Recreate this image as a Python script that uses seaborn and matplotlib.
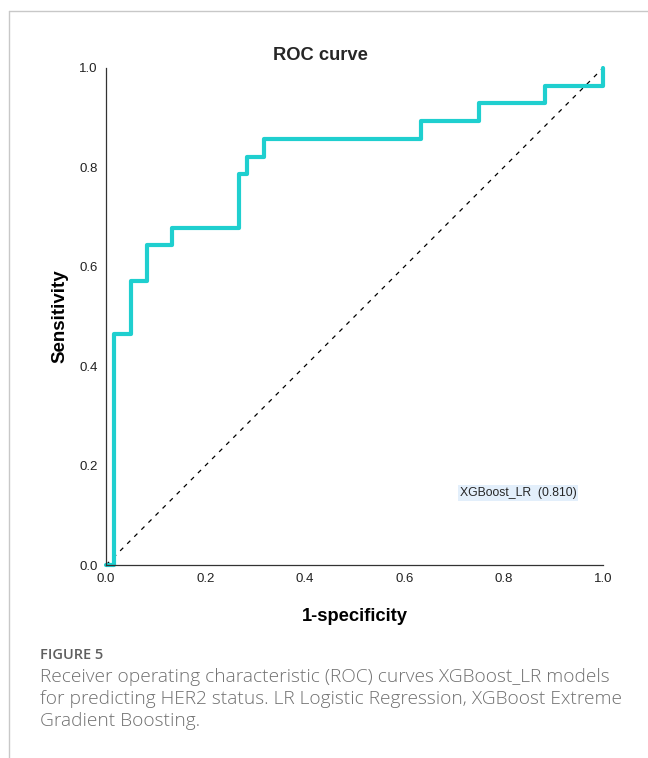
import matplotlib
matplotlib.use("Agg")
import matplotlib.pyplot as plt
import seaborn as sns
from matplotlib.lines import Line2D

# ROC steps (false positive rate, true positive rate)
fpr = [0.0, 0.017, 0.017, 0.050, 0.050, 0.083, 0.083, 0.133, 0.133, 0.267, 0.267,
       0.283, 0.283, 0.317, 0.317, 0.633, 0.633, 0.750, 0.750, 0.883, 0.883, 1.0, 1.0]
tpr = [0.0, 0.0, 0.464, 0.464, 0.571, 0.571, 0.643, 0.643, 0.679, 0.679, 0.786,
       0.786, 0.821, 0.821, 0.857, 0.857, 0.893, 0.893, 0.929, 0.929, 0.964, 0.964, 1.0]
ref_line = [0.0, 1.0]
model_name = "XGBoost_LR"
auc = 0.810
ticks = [0.0, 0.2, 0.4, 0.6, 0.8, 1.0]

sns.set_theme(style="white")
plt.rcParams['font.family'] = ['Liberation Sans', 'DejaVu Sans']

fig = plt.figure(figsize=(6.48, 7.58), dpi=100)
ax = fig.add_axes([106/648, 1 - 565/758, 497/648, 497/758])

sns.lineplot(x=ref_line, y=ref_line, ax=ax, color='black', linewidth=0.9,
             dashes=False, linestyle=(0, (3.5, 4.5)), clip_on=False)
sns.lineplot(x=fpr, y=tpr, ax=ax, sort=False, estimator=None, color='#1fcfcf',
             linewidth=3.0, clip_on=False)

ax.set_xlim(0, 1)
ax.set_ylim(0, 1)
ax.set_xticks(ticks)
ax.set_yticks(ticks)
ax.set_xticklabels([f"{t:.1f}" for t in ticks])
ax.set_yticklabels([f"{t:.1f}" for t in ticks])
ax.tick_params(axis='both', length=0, labelsize=9.5, colors='#222222')
ax.tick_params(axis='x', pad=6)
ax.tick_params(axis='y', pad=6)
sns.despine(ax=ax)
for s in ['left', 'bottom']:
    ax.spines[s].set_color('#333333')
    ax.spines[s].set_linewidth(0.9)
ax.grid(False)

ax.set_xlabel("1-specificity", fontsize=13.2, fontweight='bold', labelpad=16, color='black')
ax.set_ylabel("Sensitivity", fontsize=13.5, fontweight='bold', labelpad=8, color='black')
fig.text(320/648, 1 - 55/758, "ROC curve", fontsize=13.2, fontweight='bold',
         ha='center', va='center')

ax.text(0.829, 0.145, f"{model_name}  ({auc:.3f})", fontsize=8.8, ha='center', va='center',
        bbox=dict(boxstyle='square,pad=0.15', facecolor='#e3effb', edgecolor='none'))

# page frame
fig.add_artist(Line2D([9/648, 1], [1 - 11/758, 1 - 11/758], color='#c8c8c8', linewidth=1))
fig.add_artist(Line2D([9/648, 9/648], [0, 1 - 11/758], color='#c8c8c8', linewidth=1))

# caption
fig.text(40/648, 1 - 655/758, "FIGURE 5", fontsize=10.5, fontweight='semibold',
         family=['Open Sans', 'DejaVu Sans'], color='#5f5f5f', va='center')
caption = ("Receiver operating characteristic (ROC) curves XGBoost_LR models\n"
           "for predicting HER2 status. LR Logistic Regression, XGBoost Extreme\n"
           "Gradient Boosting.")
fig.text(40/648, 1 - 668/758, caption, fontsize=13.8, fontweight='light',
         family=['Open Sans', 'DejaVu Sans'], color='#707070', va='top', linespacing=1.27)

fig.savefig("out.png", dpi=100)
